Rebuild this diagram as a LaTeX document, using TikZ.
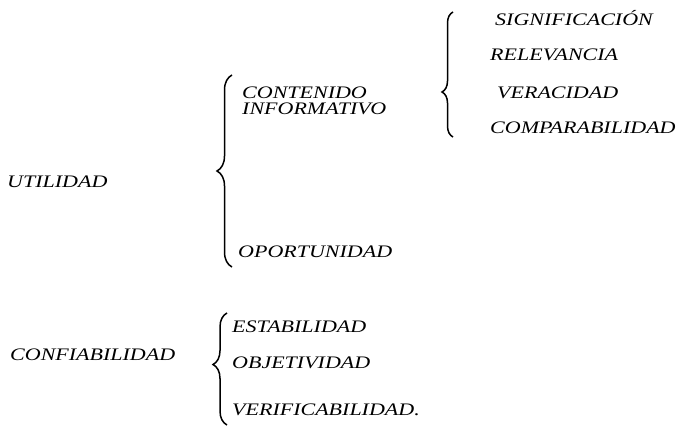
\documentclass[tikz,border=0pt]{standalone}
\usepackage{fontspec}
\setmainfont{Liberation Serif}
\usetikzlibrary{decorations.pathreplacing}
\newcommand{\rotulo}[1]{\scalebox{1}[0.8]{#1}}
\tikzset{
  lbl/.style={anchor=west, inner sep=0pt, font=\fontsize{22}{16}\selectfont\itshape},
  llave/.style={decorate, line width=1.5pt, decoration={brace, amplitude=#1}}
}
\begin{document}
\begin{tikzpicture}[x=1pt, y=1pt]
    \useasboundingbox (0,0) rectangle (684,-428);
    % Nodes
    \node[lbl] (util) at (7,-182) {\rotulo{UTILIDAD}};
    \node[lbl, align=left] (cont) at (242,-100.5) {\rotulo{CONTENIDO}\\\rotulo{INFORMATIVO}};
    \node[lbl] (oport) at (238,-252) {\rotulo{OPORTUNIDAD}};
    \node[lbl] (sig) at (495,-18) {\rotulo{SIGNIFICACIÓN}};
    \node[lbl] (rel) at (490,-55) {\rotulo{RELEVANCIA}};
    \node[lbl] (ver) at (497,-93) {\rotulo{VERACIDAD}};
    \node[lbl] (comp) at (490,-128) {\rotulo{COMPARABILIDAD}};
    \node[lbl] (conf) at (10,-355) {\rotulo{CONFIABILIDAD}};
    \node[lbl] (est) at (232,-327) {\rotulo{ESTABILIDAD}};
    \node[lbl] (obj) at (232,-363) {\rotulo{OBJETIVIDAD}};
    \node[lbl] (verif) at (232,-410) {\rotulo{VERIFICABILIDAD.}};

    % Brace ends
    \coordinate (u1) at (232,-75);
    \coordinate (u2) at (232,-267);
    \coordinate (c1) at (453,-12);
    \coordinate (c2) at (453,-137);
    \coordinate (f1) at (227,-313);
    \coordinate (f2) at (227,-425);

    % Braces
    \draw[llave=15pt, decoration={aspect=0.5}] (u2) -- (u1);
    \draw[llave=11pt, decoration={aspect=0.36}] (c2) -- (c1);
    \draw[llave=14pt, decoration={aspect=0.54}] (f2) -- (f1);
\end{tikzpicture}
\end{document}
